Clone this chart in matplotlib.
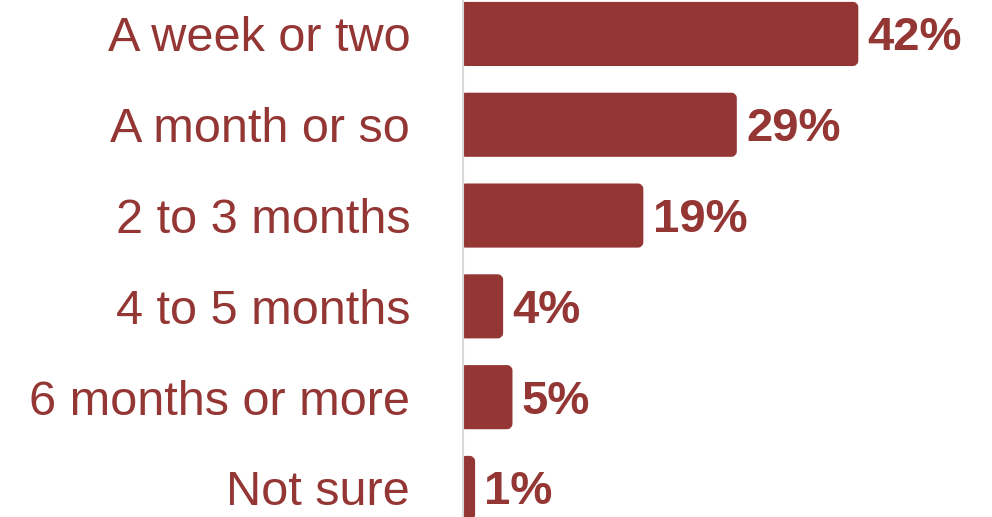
import matplotlib
matplotlib.use("Agg")
from matplotlib import pyplot as plt
from matplotlib.patches import FancyBboxPatch

categories = ["A week or two", "A month or so", "2 to 3 months",
              "4 to 5 months", "6 months or more", "Not sure"]
percents = [42, 29, 19, 4, 5, 1]

red = "#943634"
plt.rcParams["font.family"] = ["Liberation Sans", "DejaVu Sans"]

fig = plt.figure(figsize=(9.92, 5.17), dpi=100)
ax = fig.add_axes([0.4667, 0, 0.5333, 1])

ypos = list(range(len(categories)))
bars = ax.barh(ypos, percents, height=0.645, color=red)

# swap plain rectangles for rounded ones
for b in bars:
    x, y = b.get_x(), b.get_y()
    w, h = b.get_width(), b.get_height()
    b.set_visible(False)
    ax.add_patch(FancyBboxPatch((x, y), w, h,
                                boxstyle="round,pad=0,rounding_size=0.3",
                                mutation_aspect=0.1,
                                facecolor=red, edgecolor=red, linewidth=4,
                                joinstyle="round"))

for y, v in zip(ypos, percents):
    ax.text(v + 1.3, y + 0.05, f"{v}%", va="center", ha="left",
            fontsize=34, fontweight="bold", color=red)

ax.set_xlim(0, 56.6)
ax.set_ylim(5.32, -0.374)
ax.set_yticks(ypos)
ax.set_yticklabels(categories, fontsize=35, color=red)
ax.tick_params(axis="y", length=0, pad=38)
ax.set_xticks([])

for s in ["top", "right", "bottom"]:
    ax.spines[s].set_visible(False)
ax.spines["left"].set_color("#d9d9d9")
ax.spines["left"].set_linewidth(1.5)
ax.spines["left"].set_zorder(3)

fig.savefig("out.png", dpi=100)
